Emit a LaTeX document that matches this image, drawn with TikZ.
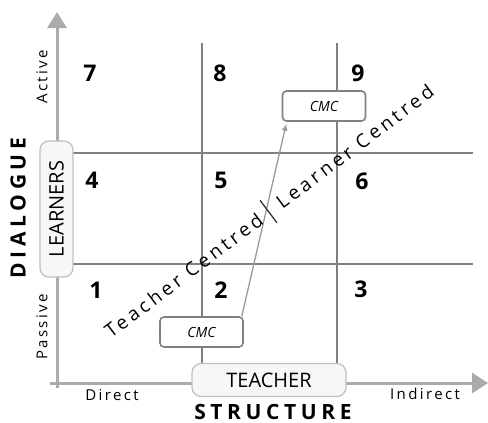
\documentclass[tikz,border=0pt]{standalone}
\usepackage{fontspec}
\setmainfont{Open Sans}
\newfontfamily\lsfont[LetterSpace=16]{Open Sans}
\newfontfamily\lsbfont[LetterSpace=22]{Open Sans}
\newfontfamily\dgfont[LetterSpace=19]{Open Sans}
\usetikzlibrary{arrows.meta,calc}
\tikzset{
  axis/.style={draw=black!33, line width=3pt},
  gridline/.style={draw=black!50, line width=1.6pt},
  bigbox/.style={draw=black!25, fill=black!3, rounded corners=9pt, line width=1.2pt, inner sep=0pt, font=\fontsize{20}{23}\selectfont},
  cmcbox/.style={draw=black!50, fill=white, rounded corners=4pt, line width=1.6pt, inner sep=0pt, minimum width=83pt, minimum height=30pt, font=\itshape\fontsize{14}{16}\selectfont},
  num/.style={font=\bfseries\fontsize{23}{26}\selectfont},
  small/.style={font=\lsfont\fontsize{15}{17}\selectfont},
  title/.style={font=\lsbfont\bfseries\fontsize{21}{24}\selectfont, inner sep=0pt},
  diag/.style={font=\dgfont\fontsize{19}{22}\selectfont, inner sep=0pt, rotate=37},
  link/.style={draw=black!40, line width=1.3pt, -{Latex[length=7pt,width=6pt]}, shorten >=2pt}
}
\begin{document}
\begin{tikzpicture}[x=1pt,y=-1pt]
\useasboundingbox (0,0) rectangle (488,423);
% grid
\draw[gridline] (202,43) -- (202,370);
\draw[gridline] (337,43) -- (337,370);
\draw[gridline] (57,153) -- (473,153);
\draw[gridline] (57,264) -- (473,264);
% axes
\coordinate (ybot) at (57,388);
\coordinate (ytop) at (57,12);
\coordinate (xleft) at (50,383);
\coordinate (xright) at (488,383);
\draw[axis, -{Triangle[length=16pt,width=19pt]}] (ybot) -- (ytop);
\draw[axis, -{Triangle[length=16pt,width=20pt]}] (xleft) -- (xright);
% boxes
\node[bigbox, minimum width=154pt, minimum height=33pt] (teacher) at (269,380) {TEACHER};
\node[bigbox, minimum width=136pt, minimum height=33pt, rotate=90] (learners) at (56.5,209) {LEARNERS};
\node[cmcbox] (cmc1) at (201.5,332) {CMC};
\node[cmcbox] (cmc2) at (324,106) {CMC};
\draw[link] ([xshift=-2pt]cmc1.north east) -- ([xshift=5pt]cmc2.south west);
% numbers
\node[num] (n7) at (90,73) {7};
\node[num] (n8) at (220,73) {8};
\node[num] (n9) at (358,73) {9};
\node[num] (n4) at (92,180) {4};
\node[num] (n5) at (221,180) {5};
\node[num] (n6) at (362,181) {6};
\node[num] (n1) at (96,290) {1};
\node[num] (n2) at (221,290) {2};
\node[num] (n3) at (361,289) {3};
% axis labels
\node[small, rotate=90] (active) at (42,77) {Active};
\node[small, rotate=90] (passive) at (42,327) {Passive};
\node[small] (direct) at (112,395) {Direct};
\node[small] (indirect) at (425,394) {Indirect};
\node[title, rotate=90] (dialogue) at (18,208) {DIALOGUE};
\node[title] (structure) at (273,412) {STRUCTURE};
% diagonal
\coordinate (mid) at (268.5,211.5);
\draw[line width=1.3pt, black!80] ($(mid)+(127:14pt)$) -- ($(mid)+(-53:14pt)$);
\node[diag, anchor=east] (tc) at ($(mid)+(217:10pt)$) {Teacher Centred};
\node[diag, anchor=west] (lc) at ($(mid)+(37:12pt)$) {Learner Centred};
\end{tikzpicture}
\end{document}
